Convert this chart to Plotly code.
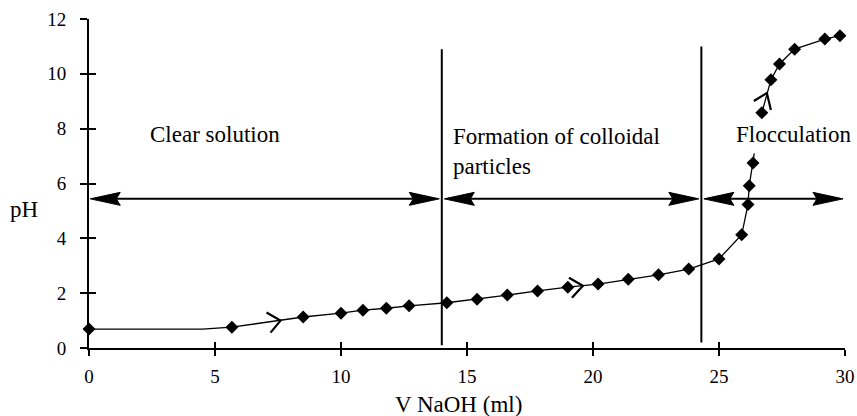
import plotly.graph_objects as go

# ---- data ----
vol = [0, 5.67, 8.5, 10.0, 10.87, 11.8, 12.7, 14.2, 15.4, 16.6, 17.8, 19.0, 20.2,
       21.4, 22.6, 23.8, 25.0, 25.9, 26.15, 26.2, 26.35, 26.7, 27.06, 27.4, 28.0, 29.2, 29.8]
ph = [0.69, 0.76, 1.13, 1.27, 1.38, 1.45, 1.54, 1.65, 1.78, 1.93, 2.08, 2.22, 2.33,
      2.51, 2.67, 2.88, 3.25, 4.13, 5.23, 5.92, 6.75, 8.58, 9.78, 10.36, 10.9, 11.27, 11.39]

# extra line vertices (flat start, stub before the break)
flat_end_x, flat_end_y = 4.5, 0.69
stub_x, stub_y = 26.4, 7.1
break_index = 21

boundaries = [14.0, 24.3]
boundary_bottoms = [0.1, 0.2]
boundary_tops = [10.9, 11.0]

arrow_y = 5.44
arrow_spans = [(0.05, 13.9), (14.1, 24.2), (24.4, 29.92)]

chevron_x = [7.6, 19.6, 26.9]
chevron_y = [1.0, 2.27, 9.3]
chevron_paths = ["M-14,8 L0,0 L-10,-12", "M-14,8 L0,0 L-11,-12", "M-13,-8 L0,0 L4,-17"]

region_labels = ["Clear solution", "Formation of colloidal<br>particles", "Flocculation"]
region_label_x = [5.0, 14.4, 25.65]
region_label_y = [7.77, 7.15, 7.77]
region_label_anchor = ["center", "left", "left"]

x_ticks = [0, 5, 10, 15, 20, 25, 30]
y_ticks = [0, 2, 4, 6, 8, 10, 12]

FONT = "Liberation Serif"

line_x = vol[:1] + [flat_end_x] + vol[1:break_index] + [stub_x, None] + vol[break_index:]
line_y = ph[:1] + [flat_end_y] + ph[1:break_index] + [stub_y, None] + ph[break_index:]

fig = go.Figure()
fig.add_trace(go.Scatter(x=line_x, y=line_y, mode="lines",
                         line=dict(color="black", width=1.3), connectgaps=False,
                         hoverinfo="skip", showlegend=False))
fig.add_trace(go.Scatter(x=vol, y=ph, mode="markers", cliponaxis=False,
                         marker=dict(symbol="diamond", size=10, color="black"),
                         showlegend=False))
# invisible trace for overlay axes (inside ticks)
fig.add_trace(go.Scatter(x=[None], y=[None], xaxis="x2", yaxis="y2", showlegend=False))

shapes = []
for bx, b0, b1 in zip(boundaries, boundary_bottoms, boundary_tops):
    shapes.append(dict(type="line", x0=bx, x1=bx, y0=b0, y1=b1, xref="x", yref="y",
                       line=dict(color="black", width=2)))
for (a0, a1) in arrow_spans:
    shapes.append(dict(type="line", x0=a0 + 0.6, x1=a1 - 0.6, y0=arrow_y, y1=arrow_y,
                       xref="x", yref="y", line=dict(color="black", width=2)))
    shapes.append(dict(type="path", xref="x", yref="y", xsizemode="pixel", ysizemode="pixel",
                       xanchor=a0, yanchor=arrow_y,
                       path="M0,0 L30,6.5 L26,0 L30,-6.5 Z",
                       fillcolor="black", line=dict(color="black", width=1)))
    shapes.append(dict(type="path", xref="x", yref="y", xsizemode="pixel", ysizemode="pixel",
                       xanchor=a1, yanchor=arrow_y,
                       path="M0,0 L-30,6.5 L-26,0 L-30,-6.5 Z",
                       fillcolor="black", line=dict(color="black", width=1)))
for cx, cy, cp in zip(chevron_x, chevron_y, chevron_paths):
    shapes.append(dict(type="path", xref="x", yref="y", xsizemode="pixel", ysizemode="pixel",
                       xanchor=cx, yanchor=cy, path=cp,
                       line=dict(color="black", width=2.2)))

annotations = []
for t, ax_, ay_, anc in zip(region_labels, region_label_x, region_label_y, region_label_anchor):
    annotations.append(dict(text=t, x=ax_, y=ay_, xref="x", yref="y", showarrow=False,
                            xanchor=anc, yanchor="middle", align="left", borderpad=0,
                            font=dict(family=FONT, size=23, color="black")))
annotations.append(dict(text="pH", x=0, y=5.04, xref="paper", yref="y", xshift=-65,
                        xanchor="center", yanchor="middle", showarrow=False,
                        font=dict(family=FONT, size=23, color="black")))
annotations.append(dict(text="V NaOH (ml)", x=0.489, y=0, xref="paper", yref="paper", yshift=-56,
                        xanchor="center", yanchor="middle", showarrow=False,
                        font=dict(family=FONT, size=23, color="black")))

axis_common = dict(showgrid=False, zeroline=False, color="black", automargin=False)
fig.update_layout(
    template="none",
    width=857, height=416,
    margin=dict(l=89, r=12, t=19, b=68, autoexpand=False),
    paper_bgcolor="white", plot_bgcolor="white",
    font=dict(family=FONT, size=19, color="black"),
    xaxis=dict(range=[0, 30], tickvals=x_ticks, ticks="outside", ticklen=6, tickwidth=2,
               showline=True, linewidth=2, linecolor="black", ticklabelstandoff=4,
               tickfont=dict(family=FONT, size=19, color="black"), **axis_common),
    yaxis=dict(range=[0, 12], tickvals=y_ticks, ticks="outside", ticklen=7, tickwidth=2,
               showline=True, linewidth=2, linecolor="black", ticklabelstandoff=10,
               tickfont=dict(family=FONT, size=19, color="black"), **axis_common),
    xaxis2=dict(range=[0, 30], tickvals=x_ticks, ticks="inside", ticklen=6, tickwidth=2,
                showticklabels=False, showline=False, overlaying="x", anchor="y", **axis_common),
    yaxis2=dict(range=[0, 12], tickvals=y_ticks, ticks="inside", ticklen=7, tickwidth=2,
                showticklabels=False, showline=False, overlaying="y", anchor="x", **axis_common),
    shapes=shapes, annotations=annotations,
    showlegend=False,
)

fig.write_html("out.html")
